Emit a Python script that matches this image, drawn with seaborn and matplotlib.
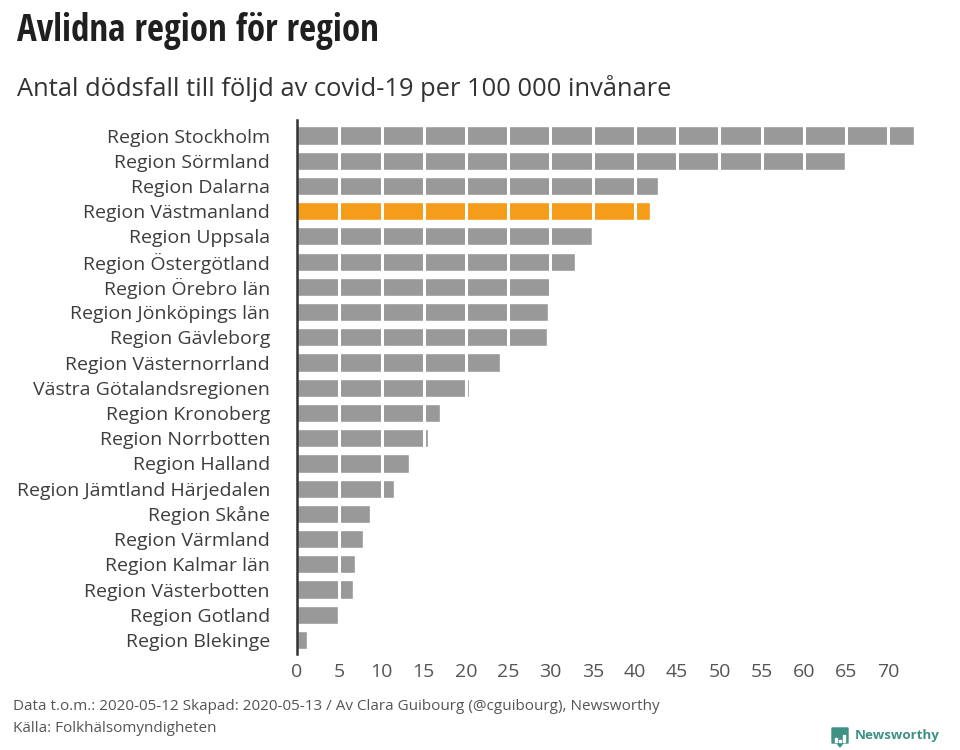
import pandas as pd
import matplotlib.pyplot as plt
from matplotlib.patches import Polygon, Rectangle
import seaborn as sns

regions = ["Region Stockholm", "Region Sörmland", "Region Dalarna", "Region Västmanland",
           "Region Uppsala", "Region Östergötland", "Region Örebro län", "Region Jönköpings län",
           "Region Gävleborg", "Region Västernorrland", "Västra Götalandsregionen",
           "Region Kronoberg", "Region Norrbotten", "Region Halland", "Region Jämtland Härjedalen",
           "Region Skåne", "Region Värmland", "Region Kalmar län", "Region Västerbotten",
           "Region Gotland", "Region Blekinge"]
deaths = [73, 64.9, 42.7, 41.8, 34.9, 32.9, 29.9, 29.7, 29.6, 24.0, 20.3,
          16.9, 15.5, 13.2, 11.5, 8.6, 7.8, 6.9, 6.6, 4.9, 1.2]
xticks = list(range(0, 75, 5))
highlight = "Region Västmanland"

GREY = "#999999"
ORANGE = "#f59c1a"
TEAL = "#3f9186"

W, H = 960, 750

sns.set_theme(style="white")
plt.rcParams['font.family'] = ['Open Sans', 'DejaVu Sans']

df = pd.DataFrame({"region": regions, "deaths": deaths})
colors = {r: (ORANGE if r == highlight else GREY) for r in regions}

fig = plt.figure(figsize=(W / 100, H / 100), dpi=100, facecolor="white")
ax = fig.add_axes([297 / W, 1 - 654 / H, (922 - 297) / W, (654 - 120) / H])

sns.barplot(data=df, x="deaths", y="region", hue="region", palette=colors,
            legend=False, width=0.72, saturation=1, ax=ax)

ax.set_xlim(0, 625 / 8.45)
ax.set_ylim(20 + 14 / 25.2, -15.5 / 25.2)
ax.set_xlabel("")
ax.set_ylabel("")
ax.set_xticks(xticks)
ax.tick_params(axis="x", length=0, pad=6.5, labelsize=14, labelcolor="#555555")
ax.tick_params(axis="y", length=0, pad=19.5, labelsize=14, labelcolor="#3d3d3d")

# white dividers across the bars every 5 units
for x in xticks[1:]:
    ax.axvline(x, color="white", lw=2.2, zorder=5)

sns.despine(ax=ax, left=False, bottom=True, top=True, right=True)
ax.spines["left"].set_color("#333333")
ax.spines["left"].set_linewidth(1.8)
ax.spines["left"].set_zorder(6)

fig.text(17 / W, 1 - 31 / H, "Avlidna region för region", fontsize=26.6, fontweight="bold",
         family=["Open Sans Condensed", "Roboto Condensed", "Oswald", "Open Sans"],
         color="#1f1f1f", va="center")
fig.text(17 / W, 1 - 88 / H, "Antal dödsfall till följd av covid-19 per 100 000 invånare",
         fontsize=18.35, color="#333333", va="center")
fig.text(13 / W, 1 - 706 / H, "Data t.o.m.: 2020-05-12 Skapad: 2020-05-13 / Av Clara Guibourg (@cguibourg), Newsworthy",
         fontsize=11, color="#555555", va="center")
fig.text(13 / W, 1 - 729 / H, "Källa: Folkhälsomyndigheten", fontsize=11, color="#555555", va="center")

# Newsworthy logo
bg = fig.add_axes([0, 0, 1, 1], facecolor="none")
bg.set_xlim(0, W)
bg.set_ylim(H, 0)
bg.axis("off")
bg.add_patch(Polygon([(832, 728), (848, 728), (848, 743), (843, 743), (840, 747), (837, 743), (832, 743)],
                     closed=True, color=TEAL))
for bx, top in zip([835, 839, 843], [738, 740, 735]):
    bg.add_patch(Rectangle((bx, top), 2, 742 - top, color="white"))
bg.text(855, 736, "Newsworthy", fontsize=9.6, fontweight="bold", color=TEAL, va="center")

fig.savefig("out.png", dpi=100, facecolor="white")
